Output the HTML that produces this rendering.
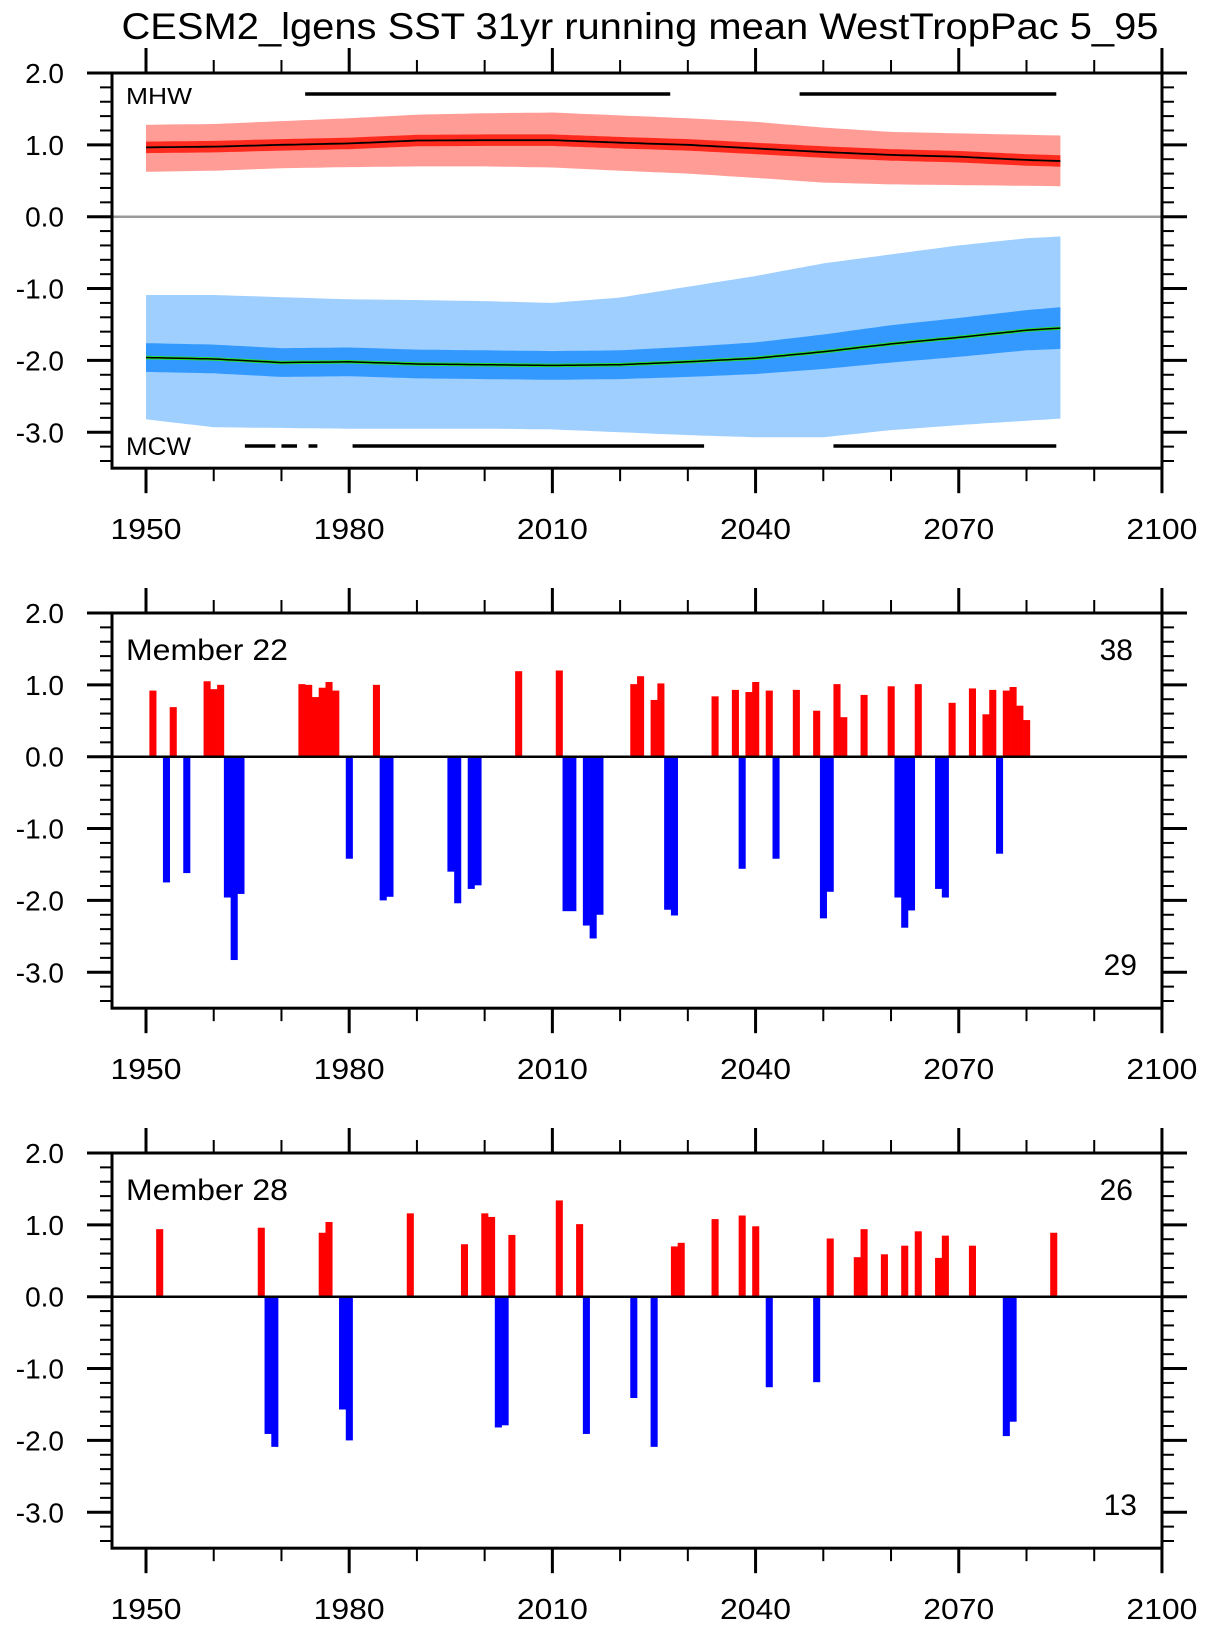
<!DOCTYPE html>
<html><head><meta charset="utf-8"><style>html,body{margin:0;padding:0;background:#fff}svg{display:block}</style></head>
<body>
<svg id="chart" width="1208" height="1630" xmlns="http://www.w3.org/2000/svg" font-family="Liberation Sans, Arial, sans-serif"></svg>
<script>
// ---------- data ----------
const bandYears   = [1950,1960,1970,1980,1990,2000,2010,2020,2030,2040,2050,2060,2070,2080,2085];
const mhwP95      = [1.28,1.29,1.33,1.37,1.42,1.44,1.45,1.41,1.37,1.32,1.24,1.18,1.16,1.14,1.13];
const mhwP5       = [0.625,0.64,0.675,0.69,0.70,0.70,0.685,0.64,0.60,0.54,0.475,0.45,0.44,0.43,0.425];
const mhwMean     = [0.965,0.975,1.0,1.02,1.06,1.065,1.065,1.03,1.0,0.95,0.90,0.86,0.835,0.79,0.775];
const mhwSpread   = [0.08,0.08,0.08,0.08,0.08,0.08,0.08,0.08,0.08,0.08,0.08,0.08,0.08,0.08,0.08];
const mcwP95      = [-1.09,-1.09,-1.12,-1.15,-1.16,-1.175,-1.2,-1.125,-0.975,-0.825,-0.65,-0.525,-0.40,-0.30,-0.275];
const mcwP5       = [-2.82,-2.93,-2.94,-2.95,-2.95,-2.95,-2.96,-3.0,-3.04,-3.07,-3.07,-2.97,-2.90,-2.84,-2.81];
const mcwMean     = [-1.96,-1.98,-2.03,-2.02,-2.05,-2.06,-2.07,-2.06,-2.02,-1.97,-1.88,-1.77,-1.68,-1.58,-1.55];
const mcwSpread   = [0.2,0.2,0.2,0.2,0.2,0.2,0.2,0.2,0.21,0.22,0.24,0.26,0.27,0.28,0.29];
const mhwSegments = [[1973.5,2027.4],[2046.5,2084.4]];
const mcwSegments = [[1964.6,1969.1],[1970,1972.3],[1974,1975.3],[1980.5,2032.4],[2051.5,2084.4]];

const m22RedYears = [1951,1954,1959,1960,1961,1973,1974,1975,1976,1977,1978,1984,2005,2011,2022,2023,2025,2026,2034,2037,2039,2040,2042,2046,2049,2052,2053,2056,2060,2064,2069,2072,2074,2075,2077,2078,2079,2080];
const m22RedVals  = [0.92,0.69,1.05,0.94,1.0,1.01,1.0,0.83,0.96,1.04,0.92,1.0,1.19,1.2,1.01,1.12,0.79,1.02,0.84,0.93,0.9,1.04,0.92,0.93,0.64,1.01,0.55,0.86,0.98,1.01,0.75,0.95,0.59,0.93,0.92,0.97,0.71,0.51];
const m22BlueYears= [1953,1956,1962,1963,1964,1980,1985,1986,1995,1996,1998,1999,2012,2013,2015,2016,2017,2027,2028,2038,2043,2050,2051,2061,2062,2063,2067,2068,2076];
const m22BlueVals = [-1.75,-1.62,-1.96,-2.83,-1.91,-1.42,-2.0,-1.95,-1.6,-2.04,-1.84,-1.79,-2.15,-2.15,-2.35,-2.53,-2.2,-2.13,-2.21,-1.56,-1.42,-2.25,-1.88,-1.96,-2.38,-2.14,-1.84,-1.96,-1.35];
const m28RedYears = [1952,1967,1976,1977,1989,1997,2000,2001,2004,2011,2014,2028,2029,2034,2038,2040,2051,2055,2056,2059,2062,2064,2067,2068,2072,2084];
const m28RedVals  = [0.94,0.96,0.89,1.04,1.16,0.73,1.16,1.11,0.86,1.34,1.01,0.70,0.75,1.08,1.13,0.98,0.81,0.55,0.94,0.59,0.71,0.91,0.54,0.85,0.71,0.89];
const m28BlueYears= [1968,1969,1979,1980,2002,2003,2015,2022,2025,2042,2049,2077,2078];
const m28BlueVals = [-1.91,-2.09,-1.57,-2.0,-1.82,-1.79,-1.91,-1.41,-2.09,-1.26,-1.19,-1.94,-1.74];

const xTickLabels = ["1950","1980","2010","2040","2070","2100"];
const yTickLabels = ["2.0","1.0","0.0","-1.0","-2.0","-3.0"];

// ---------- geometry ----------
const NS="http://www.w3.org/2000/svg";
const svg=document.getElementById('chart');
const X0=146, PXY=6.773, LEFT=112, RIGHT=1162;
const UNIT=71.85;
function x(yr){return X0+(yr-1950)*PXY;}
function mk(tag,attrs,parent){const e=document.createElementNS(NS,tag);for(const k in attrs)e.setAttribute(k,attrs[k]);(parent||svg).appendChild(e);return e;}
function interp(xs,ys,t){for(let i=0;i<xs.length-1;i++){if(t<=xs[i+1]){const f=(t-xs[i])/(xs[i+1]-xs[i]);return ys[i]+f*(ys[i+1]-ys[i]);}}return ys[ys.length-1];}

function axes(g,top,name){
  const yv=v=>top+(2-v)*UNIT; const bot=yv(-3.5);
  // x ticks
  for(let yr=1950;yr<=2100;yr+=10){
    const major=(yr-1950)%30===0; const L=major?25:13;
    const t1=mk('line',{x1:x(yr),x2:x(yr),y1:top,y2:top-L,stroke:'#000','stroke-width':major?3:2},g);
    
    const t2=mk('line',{x1:x(yr),x2:x(yr),y1:bot,y2:bot+L,stroke:'#000','stroke-width':major?3:2},g);
    
  }
  // y ticks
  for(let k=0;k<=27;k++){
    const v=2-k*0.2; const major=k%5===0; const L=major?25:12; const yy=yv(v);
    const a=mk('line',{x1:LEFT,x2:LEFT-L,y1:yy,y2:yy,stroke:'#000','stroke-width':major?3:2},g);
    
    const b=mk('line',{x1:RIGHT,x2:RIGHT+L,y1:yy,y2:yy,stroke:'#000','stroke-width':major?3:2},g);
    
  }
  const fr=mk('rect',{x:LEFT,y:top,width:RIGHT-LEFT,height:bot-top,fill:'none',stroke:'#000','stroke-width':3},g);
  
  yTickLabels.forEach((s,i)=>{
    const t=mk('text',{x:64,y:yv(2-i)+10,'font-size':28,'text-anchor':'end'},g);
    t.textContent=s;
    
  });
  xTickLabels.forEach((s,i)=>{
    const t=mk('text',{x:x(1950+i*30),y:bot+71,'font-size':29,'text-anchor':'middle',textLength:71,lengthAdjust:'spacingAndGlyphs'},g);
    t.textContent=s;
    
  });
  return yv;
}

function bandPath(lo,hi,yv){
  let d='';const pts=[];
  for(let yr=1950;yr<=2085;yr+=1){pts.push([x(yr),yv(interp(bandYears,hi,yr))]);}
  for(let yr=2085;yr>=1950;yr-=1){pts.push([x(yr),yv(interp(bandYears,lo,yr))]);}
  pts.forEach((p,i)=>{d+=(i?'L':'M')+p[0].toFixed(1)+' '+p[1].toFixed(1);});
  return d+'Z';
}
function linePath(vals,yv){let d='';for(let yr=1950;yr<=2085;yr++){d+=(yr===1950?'M':'L')+x(yr).toFixed(1)+' '+yv(interp(bandYears,vals,yr)).toFixed(1);}return d;}

// title
const title=mk('text',{x:640,y:39,'font-size':37,'text-anchor':'middle',textLength:1037,lengthAdjust:'spacingAndGlyphs'});
title.textContent='CESM2_lgens SST 31yr running mean WestTropPac 5_95';


// ---------- panel 1 ----------
const g1=mk('g',{});
const y1=v=>73+(2-v)*UNIT;
const mhwHiD=mhwMean.map((m,i)=>m+mhwSpread[i]), mhwLoD=mhwMean.map((m,i)=>m-mhwSpread[i]);
const mcwHiD=mcwMean.map((m,i)=>m+mcwSpread[i]), mcwLoD=mcwMean.map((m,i)=>m-mcwSpread[i]);
let e;
e=mk('path',{d:bandPath(mhwP5,mhwP95,y1),fill:'#ff9c96'},g1);
e=mk('path',{d:bandPath(mhwLoD,mhwHiD,y1),fill:'#ff2a1e'},g1);
e=mk('path',{d:linePath(mhwMean,y1),fill:'none',stroke:'#000','stroke-width':1.8},g1);
e=mk('path',{d:bandPath(mcwP5,mcwP95,y1),fill:'#9ecfff'},g1);
e=mk('path',{d:bandPath(mcwLoD,mcwHiD,y1),fill:'#3399ff'},g1);
e=mk('path',{d:linePath(mcwMean,y1),fill:'none',stroke:'#22dd33','stroke-width':3.5},g1);
e=mk('path',{d:linePath(mcwMean,y1),fill:'none',stroke:'#000','stroke-width':1.5},g1);
e=mk('line',{x1:LEFT,x2:RIGHT,y1:y1(0),y2:y1(0),stroke:'#999','stroke-width':2.5},g1);
mhwSegments.forEach(s=>{const l=mk('line',{x1:x(s[0]),x2:x(s[1]),y1:94,y2:94,stroke:'#000','stroke-width':3.5},g1);});
mcwSegments.forEach(s=>{const l=mk('line',{x1:x(s[0]),x2:x(s[1]),y1:446,y2:446,stroke:'#000','stroke-width':3.5},g1);});
e=mk('text',{x:126,y:104,'font-size':23,textLength:66,lengthAdjust:'spacingAndGlyphs'},g1);e.textContent='MHW';
e=mk('text',{x:126,y:455,'font-size':25,textLength:65,lengthAdjust:'spacingAndGlyphs'},g1);e.textContent='MCW';
axes(g1,73,'panel1');

// ---------- bar panels ----------
function barPanel(top,name,label,ry,rv,by,bv){
  const g=mk('g',{});
  const yv=v=>top+(2-v)*UNIT;
  ry.forEach((yr,i)=>{const r=mk('rect',{x:x(yr)-PXY/2,y:yv(rv[i]),width:PXY+0.3,height:yv(0)-yv(rv[i]),fill:'#ff0000'},g);
    });
  by.forEach((yr,i)=>{const r=mk('rect',{x:x(yr)-PXY/2,y:yv(0),width:PXY+0.3,height:yv(bv[i])-yv(0),fill:'#0000ff'},g);
    });
  let z=mk('line',{x1:LEFT,x2:RIGHT,y1:yv(0),y2:yv(0),stroke:'#000','stroke-width':2.5},g);
  let t=mk('text',{x:126,y:top+47,'font-size':30,textLength:162,lengthAdjust:'spacingAndGlyphs'},g);t.textContent=label;
  t=mk('text',{x:1133,y:top+47,'font-size':30,'text-anchor':'end'},g);t.textContent=String(ry.length);
  t=mk('text',{x:1137,y:top+362,'font-size':30,'text-anchor':'end'},g);t.textContent=String(by.length);
  axes(g,top,name);
}
barPanel(613,'member-22-panel','Member 22',m22RedYears,m22RedVals,m22BlueYears,m22BlueVals);
barPanel(1153,'member-28-panel','Member 28',m28RedYears,m28RedVals,m28BlueYears,m28BlueVals);
</script>
</body></html>
